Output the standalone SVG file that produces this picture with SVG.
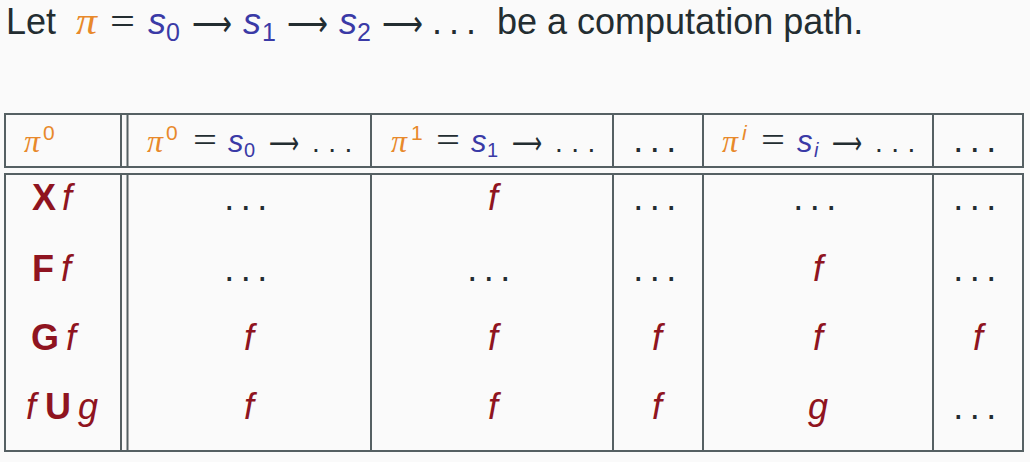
<svg xmlns="http://www.w3.org/2000/svg" width="1030" height="462" viewBox="0 0 1030 462">
<style>
  .t { font-family: "Liberation Sans", Arial, sans-serif; fill: #232d31; }
  .pi { font-family: "Liberation Serif", "Times New Roman", serif; font-style: italic; fill: #e8892b; }
  .s { font-family: "Liberation Sans", Arial, sans-serif; font-style: italic; fill: #3a3aa6; }
  .sub { font-family: "Liberation Sans", Arial, sans-serif; fill: #3a3aa6; }
  .sup { font-family: "Liberation Sans", Arial, sans-serif; fill: #e8892b; }
  .op { font-family: "DejaVu Sans", sans-serif; fill: #232d31; }
  .eq { font-family: "Liberation Serif", "Times New Roman", serif; fill: #232d31; }
  .dots { font-family: "Liberation Sans", Arial, sans-serif; fill: #232d31; letter-spacing: 6.5px; }
  .mdots { font-family: "Liberation Sans", Arial, sans-serif; fill: #232d31; letter-spacing: 8.5px; font-size: 28px; }
  .r { font-family: "Liberation Sans", Arial, sans-serif; fill: #8f1420; font-size: 36px; }
  .b { font-weight: bold; }
  .i { font-style: italic; }
  .ln { stroke: #556063; stroke-width: 2; fill: none; }
</style>
<rect x="0" y="0" width="1030" height="462" fill="#fafafa"/>

<g id="title">
  <text class="t" x="6" y="34" font-size="36">Let</text>
  <text class="pi" x="76" y="34" font-size="38" textLength="21" lengthAdjust="spacingAndGlyphs">π</text>
  <text class="eq" x="110" y="34" font-size="38" textLength="25" lengthAdjust="spacingAndGlyphs">=</text>
  <text class="s" x="148" y="34" font-size="36">s</text>
  <text class="sub" x="166" y="41" font-size="25">0</text>
  <text class="op" x="192" y="36" font-size="36" textLength="40" lengthAdjust="spacingAndGlyphs">⟶</text>
  <text class="s" x="243" y="34" font-size="36">s</text>
  <text class="sub" x="262" y="41" font-size="25">1</text>
  <text class="op" x="287" y="36" font-size="36" textLength="41" lengthAdjust="spacingAndGlyphs">⟶</text>
  <text class="s" x="339" y="34" font-size="36">s</text>
  <text class="sub" x="357" y="41" font-size="25">2</text>
  <text class="op" x="382" y="36" font-size="36" textLength="41" lengthAdjust="spacingAndGlyphs">⟶</text>
  <text class="dots" x="432" y="34" font-size="36" style="letter-spacing:7px">...</text>
  <text class="t" x="497" y="34" font-size="36">be a computation path.</text>
</g>

<g id="connectors">
  <line class="ln" x1="5" y1="114" x2="1023" y2="114"/>
  <line class="ln" x1="5" y1="167" x2="1023" y2="167"/>
  <line class="ln" x1="5" y1="174" x2="1023" y2="174"/>
  <line class="ln" x1="5" y1="451" x2="1023" y2="451"/>
  <path class="ln" d="M5 113V168 M121 113V168 M127.5 113V168 M371 113V168 M613 113V168 M703 113V168 M933 113V168 M1023 113V168"/>
  <path class="ln" d="M5 173V452 M121 173V452 M127.5 173V452 M371 173V452 M613 173V452 M703 173V452 M933 173V452 M1023 173V452"/>
</g>

<g id="header">
  <g id="h0">
    <text class="pi" x="24" y="152" font-size="32" textLength="16" lengthAdjust="spacingAndGlyphs">π</text>
    <text class="sup" x="43" y="140" font-size="21">0</text>
  </g>
  <g id="h1">
    <text class="pi" x="147" y="152" font-size="32" textLength="16" lengthAdjust="spacingAndGlyphs">π</text>
    <text class="sup" x="166" y="140" font-size="21">0</text>
    <text class="eq" x="193" y="152" font-size="36" textLength="24" lengthAdjust="spacingAndGlyphs">=</text>
    <text class="s" x="228" y="152" font-size="31">s</text>
    <text class="sub" x="244" y="157" font-size="20">0</text>
    <text class="op" x="269" y="154" font-size="32" textLength="30" lengthAdjust="spacingAndGlyphs">⟶</text>
    <text class="mdots" x="312" y="152">...</text>
  </g>
  <g id="h2">
    <text class="pi" x="391" y="152" font-size="32" textLength="16" lengthAdjust="spacingAndGlyphs">π</text>
    <text class="sup" x="411" y="140" font-size="21">1</text>
    <text class="eq" x="436" y="152" font-size="36" textLength="24" lengthAdjust="spacingAndGlyphs">=</text>
    <text class="s" x="471" y="152" font-size="31">s</text>
    <text class="sub" x="487" y="157" font-size="20">1</text>
    <text class="op" x="512" y="154" font-size="32" textLength="30" lengthAdjust="spacingAndGlyphs">⟶</text>
    <text class="mdots" x="555" y="152">...</text>
  </g>
  <g id="h3">
    <text class="dots" x="658" y="152" font-size="36" text-anchor="middle">...</text>
  </g>
  <g id="h4">
    <text class="pi" x="722" y="152" font-size="32" textLength="16" lengthAdjust="spacingAndGlyphs">π</text>
    <text class="sup i" x="742" y="140" font-size="21">i</text>
    <text class="eq" x="761" y="152" font-size="36" textLength="24" lengthAdjust="spacingAndGlyphs">=</text>
    <text class="s" x="797" y="152" font-size="31">s</text>
    <text class="sub i" x="814" y="157" font-size="20">i</text>
    <text class="op" x="832" y="154" font-size="32" textLength="30" lengthAdjust="spacingAndGlyphs">⟶</text>
    <text class="mdots" x="875" y="152">...</text>
  </g>
  <g id="h5">
    <text class="dots" x="978" y="152" font-size="36" text-anchor="middle">...</text>
  </g>
</g>

<g id="row-X">
  <text class="r" y="210"><tspan class="b" x="32">X</tspan><tspan class="i" x="62">f</tspan></text>
  <text class="dots" x="249" y="210" font-size="36" text-anchor="middle">...</text>
  <text class="r i" x="493" y="210" text-anchor="middle">f</text>
  <text class="dots" x="658" y="210" font-size="36" text-anchor="middle">...</text>
  <text class="dots" x="818" y="210" font-size="36" text-anchor="middle">...</text>
  <text class="dots" x="978" y="210" font-size="36" text-anchor="middle">...</text>
</g>

<g id="row-F">
  <text class="r" y="281"><tspan class="b" x="32">F</tspan><tspan class="i" x="61">f</tspan></text>
  <text class="dots" x="249" y="281" font-size="36" text-anchor="middle">...</text>
  <text class="dots" x="492" y="281" font-size="36" text-anchor="middle">...</text>
  <text class="dots" x="658" y="281" font-size="36" text-anchor="middle">...</text>
  <text class="r i" x="818" y="281" text-anchor="middle">f</text>
  <text class="dots" x="978" y="281" font-size="36" text-anchor="middle">...</text>
</g>

<g id="row-G">
  <text class="r" y="350"><tspan class="b" x="31">G</tspan><tspan class="i" x="66">f</tspan></text>
  <text class="r i" x="249" y="350" text-anchor="middle">f</text>
  <text class="r i" x="493" y="350" text-anchor="middle">f</text>
  <text class="r i" x="657" y="350" text-anchor="middle">f</text>
  <text class="r i" x="818" y="350" text-anchor="middle">f</text>
  <text class="r i" x="978" y="350" text-anchor="middle">f</text>
</g>

<g id="row-U">
  <text class="r" y="419"><tspan class="i" x="26">f</tspan><tspan class="b" x="45">U</tspan><tspan class="i" x="78">g</tspan></text>
  <text class="r i" x="249" y="419" text-anchor="middle">f</text>
  <text class="r i" x="493" y="419" text-anchor="middle">f</text>
  <text class="r i" x="657" y="419" text-anchor="middle">f</text>
  <text class="r i" x="818" y="419" text-anchor="middle">g</text>
  <text class="dots" x="978" y="419" font-size="36" text-anchor="middle">...</text>
</g>
</svg>
